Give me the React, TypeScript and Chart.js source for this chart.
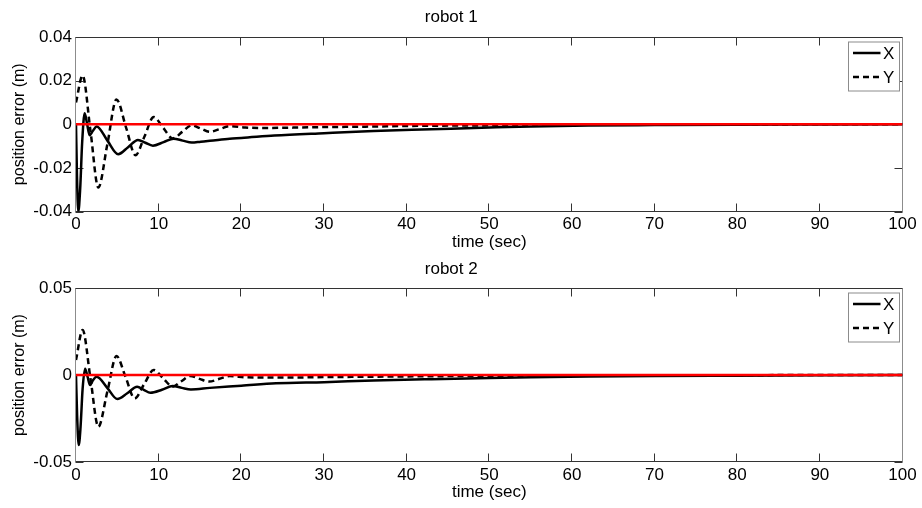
import React, { useEffect, useRef } from 'react';
import { Chart, registerables } from 'chart.js';

Chart.register(...registerables);

const FONT = "'Liberation Sans', Arial, Helvetica, sans-serif";

// ---- shared axis ticks ----
const xTicks = [0, 10, 20, 30, 40, 50, 60, 70, 80, 90, 100];
const xTickLabels = ['0', '10', '20', '30', '40', '50', '60', '70', '80', '90', '100'];

// ---- robot 1 ----
const yTicks1 = [-0.04, -0.02, 0, 0.02, 0.04];
const yTickLabels1 = ['-0.04', '-0.02', '0', '0.02', '0.04'];

const tX1 = [0, 0.12, 0.28, 0.5, 0.75, 1.05, 1.35, 1.65, 2.05, 2.5, 3.8, 5.1, 6.3, 7.5, 8.4, 9.3, 10.6, 11.8, 12.9, 14.0, 15.1, 16.2, 18.6, 20, 24, 30, 36, 43, 50, 55, 62, 70, 80, 90, 100];
const x1 = [0, -0.024, -0.04, -0.03, -0.008, 0.005, 0.0, -0.005, -0.003, -0.001, -0.0075, -0.0137, -0.0105, -0.0072, -0.0085, -0.0098, -0.0082, -0.0066, -0.0075, -0.0084, -0.008, -0.0076, -0.0066, -0.0063, -0.0052, -0.0041, -0.0031, -0.0023, -0.0015, -0.001, -0.0006, -0.0004, -0.0002, -0.0001, 0];

const tY1 = [0, 0.8, 1.75, 2.7, 3.8, 4.9, 6.05, 7.2, 8.3, 9.4, 10.55, 11.7, 12.85, 14.0, 15.1, 16.2, 17.4, 18.6, 20.5, 23, 27, 30, 35, 40, 50, 60, 70, 80, 100];
const y1 = [0.01, 0.0224, -0.003, -0.029, -0.009, 0.0114, -0.0014, -0.0142, -0.0055, 0.0033, -0.0016, -0.0065, -0.0035, -0.0005, -0.002, -0.0035, -0.0022, -0.0009, -0.0015, -0.0017, -0.0015, -0.0013, -0.0011, -0.0008, -0.0005, -0.0003, -0.0002, -0.0001, 0];

// ---- robot 2 ----
const yTicks2 = [-0.05, 0, 0.05];
const yTickLabels2 = ['-0.05', '0', '0.05'];

const tX2 = [0, 0.14, 0.33, 0.55, 0.8, 1.1, 1.4, 1.7, 2.05, 2.5, 3.8, 5.0, 6.2, 7.4, 8.2, 9.0, 10.4, 11.7, 12.8, 13.9, 16.2, 20, 24.2, 30, 36, 43, 50, 55, 62, 70, 80, 90, 100];
const x2 = [0, -0.024, -0.0403, -0.03, -0.008, 0.0036, -0.001, -0.0058, -0.003, -0.001, -0.0075, -0.0138, -0.0105, -0.0067, -0.0085, -0.0102, -0.0085, -0.0063, -0.0074, -0.0083, -0.0074, -0.0062, -0.0048, -0.0041, -0.0032, -0.0024, -0.0017, -0.0013, -0.0009, -0.0006, -0.0004, -0.0002, 0];

const tY2 = [0, 0.8, 1.75, 2.7, 3.8, 4.9, 6.0, 7.1, 8.25, 9.4, 10.55, 11.7, 12.75, 13.8, 14.95, 16.1, 17.35, 18.6, 20.5, 23, 27, 30, 35, 40, 50, 60, 70, 80, 100];
const y2 = [0.0086, 0.0259, -0.002, -0.0297, -0.0094, 0.0109, -0.0012, -0.0134, -0.0052, 0.0029, -0.0019, -0.0067, -0.0036, -0.0006, -0.0022, -0.0038, -0.0022, -0.0006, -0.0013, -0.0015, -0.0014, -0.0012, -0.001, -0.0008, -0.0005, -0.0003, -0.0002, -0.0001, 0];

// reference (zero) line
const tRef = [0, 100];
const vRef = [0, 0];

const seriesNames = ['X', 'Y'];

function pts(t: number[], v: number[]) {
  return t.map((tt, i) => ({ x: tt, y: v[i] }));
}

function makeFramePlugin(xt: number[], yt: number[]) {
  const edges = (chart: any) => {
    const { chartArea } = chart;
    return {
      L: Math.round(chartArea.left) - 0.5,
      R: Math.round(chartArea.right) - 0.5,
      T: Math.round(chartArea.top) + 0.5,
      B: Math.round(chartArea.bottom) - 0.5,
    };
  };
  return {
    id: 'matlabFrame',
    beforeDatasetsDraw(chart: any) {
      const { ctx, scales } = chart;
      const { L, R, T, B } = edges(chart);
      const tl = 8;
      ctx.save();
      ctx.setLineDash([]);
      ctx.lineWidth = 1;
      ctx.strokeStyle = '#333333';
      ctx.beginPath();
      xt.forEach((v) => {
        const px = Math.round(scales.x.getPixelForValue(v)) - 0.5;
        ctx.moveTo(px, B);
        ctx.lineTo(px, B - tl);
        ctx.moveTo(px, T);
        ctx.lineTo(px, T + tl);
      });
      yt.forEach((v) => {
        const py = Math.round(scales.y.getPixelForValue(v)) + 0.5;
        ctx.moveTo(L, py);
        ctx.lineTo(L + tl, py);
        ctx.moveTo(R, py);
        ctx.lineTo(R - tl, py);
      });
      ctx.stroke();
      ctx.beginPath();
      ctx.moveTo(L, T);
      ctx.lineTo(R, T);
      ctx.moveTo(L, B);
      ctx.lineTo(R, B);
      ctx.stroke();
      ctx.strokeStyle = '#8c8c8c';
      ctx.beginPath();
      ctx.moveTo(L, T);
      ctx.lineTo(L, B);
      ctx.moveTo(R, T);
      ctx.lineTo(R, B);
      ctx.stroke();
      ctx.restore();
    },
    afterDatasetsDraw(chart: any) {
      const { ctx } = chart;
      const { R, T } = edges(chart);
      ctx.save();
      // legend box (inside plot, top-right)
      const bx = R - 54;
      const by = T + 4.5;
      const bw = 51;
      const bh = 49;
      ctx.lineWidth = 1;
      ctx.setLineDash([]);
      ctx.fillStyle = '#ffffff';
      ctx.fillRect(bx, by, bw, bh);
      ctx.strokeStyle = '#8c8c8c';
      ctx.strokeRect(bx, by, bw, bh);
      const legendSets = chart.data.datasets.filter((d: any) => seriesNames.includes(d.label));
      legendSets.forEach((d: any, i: number) => {
        const ly = by + 11 + i * 24;
        ctx.strokeStyle = d.borderColor;
        ctx.lineWidth = d.borderWidth;
        ctx.setLineDash(d.borderDash || []);
        ctx.beginPath();
        ctx.moveTo(bx + 4.5, ly);
        ctx.lineTo(bx + 32, ly);
        ctx.stroke();
        ctx.setLineDash([]);
        ctx.fillStyle = '#000000';
        ctx.font = `17px ${FONT}`;
        ctx.textAlign = 'left';
        ctx.textBaseline = 'middle';
        ctx.fillText(d.label, bx + 34.5, ly + 1.5);
      });
      ctx.restore();
    },
  };
}

type Cfg = {
  title: string;
  tX: number[];
  vX: number[];
  tY: number[];
  vY: number[];
  yTicks: number[];
  yLabels: string[];
  titlePad: { top: number; bottom: number };
  xHeight: number;
  xTickPad: number;
  xTitlePad: number;
};

function buildConfig(c: Cfg): any {
  const font = { family: FONT, size: 17, weight: 'normal' as const };
  return {
    type: 'line',
    data: {
      datasets: [
        {
          label: 'zero',
          data: pts(tRef, vRef),
          borderColor: '#ff0000',
          borderWidth: 2.5,
          pointRadius: 0,
          order: 0,
        },
        {
          label: seriesNames[0],
          data: pts(c.tX, c.vX),
          borderColor: '#000000',
          borderWidth: 2.5,
          pointRadius: 0,
          cubicInterpolationMode: 'monotone',
          order: 1,
        },
        {
          label: seriesNames[1],
          data: pts(c.tY, c.vY),
          borderColor: '#000000',
          borderWidth: 2.5,
          borderDash: [6, 4],
          pointRadius: 0,
          cubicInterpolationMode: 'monotone',
          order: 2,
        },
      ],
    },
    options: {
      animation: false,
      responsive: false,
      events: [],
      layout: { padding: { left: 0, right: 19.5, top: 0, bottom: 0 } },
      plugins: {
        legend: { display: false },
        tooltip: { enabled: false },
        title: {
          display: true,
          text: c.title,
          color: '#000000',
          font,
          padding: c.titlePad,
        },
      },
      scales: {
        x: {
          type: 'linear',
          min: 0,
          max: 100,
          afterBuildTicks: (s: any) => {
            s.ticks = xTicks.map((v) => ({ value: v }));
          },
          ticks: {
            color: '#000000',
            font,
            padding: c.xTickPad,
            maxRotation: 0,
            autoSkip: false,
            callback: (v: number) => {
              const i = xTicks.findIndex((t) => Math.abs(t - v) < 1e-9);
              return i >= 0 ? xTickLabels[i] : '';
            },
          },
          grid: { display: false, drawTicks: false },
          border: { display: false },
          title: {
            display: true,
            text: 'time (sec)',
            color: '#000000',
            font,
            padding: { top: 0, bottom: c.xTitlePad },
          },
          afterFit: (s: any) => {
            s.height = c.xHeight;
          },
        },
        y: {
          type: 'linear',
          min: c.yTicks[0],
          max: c.yTicks[c.yTicks.length - 1],
          afterBuildTicks: (s: any) => {
            s.ticks = c.yTicks.map((v) => ({ value: v }));
          },
          ticks: {
            color: '#000000',
            font,
            padding: 4,
            autoSkip: false,
            callback: (v: number) => {
              const i = c.yTicks.findIndex((t) => Math.abs(t - v) < 1e-9);
              return i >= 0 ? c.yLabels[i] : '';
            },
          },
          grid: { display: false, drawTicks: false },
          border: { display: false },
          title: {
            display: true,
            text: 'position error (m)',
            color: '#000000',
            font: { family: FONT, size: 16, weight: 'normal' as const },
            padding: { top: 10.4, bottom: 0 },
          },
          afterFit: (s: any) => {
            s.width = 76;
          },
        },
      },
    },
    plugins: [makeFramePlugin(xTicks, c.yTicks)],
  };
}

function RobotChart({ cfg }: { cfg: Cfg }) {
  const ref = useRef<HTMLCanvasElement | null>(null);
  useEffect(() => {
    if (!ref.current) return;
    const chart = new Chart(ref.current, buildConfig(cfg));
    return () => chart.destroy();
  }, [cfg]);
  return <canvas ref={ref} width={922} height={254} style={{ display: 'block', width: 922, height: 254 }} />;
}

const cfg1: Cfg = {
  title: 'robot 1',
  tX: tX1,
  vX: x1,
  tY: tY1,
  vY: y1,
  yTicks: yTicks1,
  yLabels: yTickLabels1,
  titlePad: { top: 6.8, bottom: 9.8 },
  xHeight: 42.5,
  xTickPad: 3,
  xTitlePad: 1.2,
};

const cfg2: Cfg = {
  title: 'robot 2',
  tX: tX2,
  vX: x2,
  tY: tY2,
  vY: y2,
  yTicks: yTicks2,
  yLabels: yTickLabels2,
  titlePad: { top: 4.8, bottom: 8.8 },
  xHeight: 46,
  xTickPad: 2.8,
  xTitlePad: 5.2,
};

export default function App() {
  return (
    <div style={{ position: 'fixed', left: 0, top: 0, width: 922, height: 508, background: '#ffffff' }}>
      <RobotChart cfg={cfg1} />
      <RobotChart cfg={cfg2} />
    </div>
  );
}
